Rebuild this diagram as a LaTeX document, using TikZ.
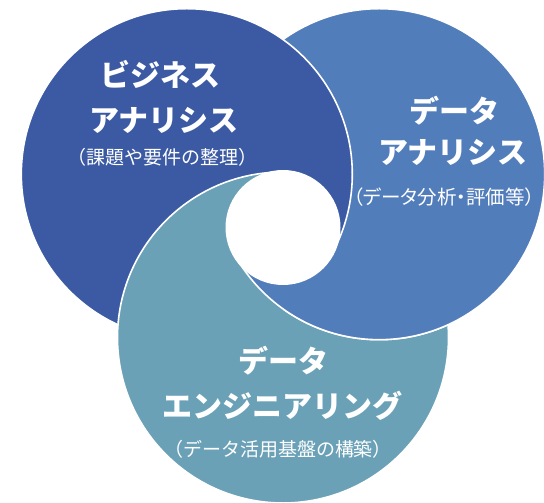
\documentclass[tikz,border=0pt]{standalone}
\usepackage{fontspec}
\setmainfont{Noto Sans CJK JP}
\definecolor{colA}{RGB}{59,90,163}
\definecolor{colB}{RGB}{82,125,187}
\definecolor{colC}{RGB}{106,161,183}
\begin{document}
\begin{tikzpicture}[x=1pt,y=1pt,
  ringA/.style={fill=colA,draw=white,line width=1.6pt},
  ringB/.style={fill=colB,draw=white,line width=1.6pt},
  ringC/.style={fill=colC,draw=white,line width=1.6pt},
  titletext/.style={text=white,inner sep=0pt,font=\fontsize{30}{34}\selectfont\bfseries},
  subtext/.style={text=white,inner sep=0pt,font=\fontsize{19}{22}\selectfont}]
\useasboundingbox (0,0) rectangle (544,503);
\coordinate (H) at (283,275.5);
\coordinate (pA) at (186.8,328.8);
\coordinate (pB) at (379.2,328.8);
\coordinate (pC) at (283,165.5);
\def\RR{165.5pt}
% base layer: C, B, A (A on top)
\path[ringC] (pC) circle[radius=\RR];
\path[ringB] (pB) circle[radius=\RR];
\path[ringA] (pA) circle[radius=\RR];
% left half: C on top
\begin{scope}
  \clip (-10,-10) rectangle (283,520);
  \path[ringC] (pC) circle[radius=\RR];
\end{scope}
% lower-right sector: B on top
\begin{scope}
  \clip (H) -- ([shift={(-151:900)}]H) -- ([shift={(-90:900)}]H) -- ([shift={(-29:900)}]H) -- cycle;
  \path[ringB] (pB) circle[radius=\RR];
\end{scope}
% central hole
\fill[white] (H) circle[radius=57.5pt];
% texts
\node[titletext] (a1) at (160,428.5) {ビジネス};
\node[titletext] (a2) at (164,383) {アナリシス};
\node[subtext] (a3) at (162,346) {（課題や要件の整理）};
\node[titletext] (b1) at (454,392) {データ};
\node[titletext] (b2) at (453,350.5) {アナリシス};
\node[subtext,font=\fontsize{19.5}{23}\selectfont] (b3) at (444,305.5) {\addfontfeatures{RawFeature=+palt}（データ分析・評価等）};
\node[titletext] (c1) at (283,142) {データ};
\node[titletext] (c2) at (282,97) {エンジニアリング};
\node[subtext] (c3) at (278,54) {（データ活用基盤の構築）};
\end{tikzpicture}
\end{document}
